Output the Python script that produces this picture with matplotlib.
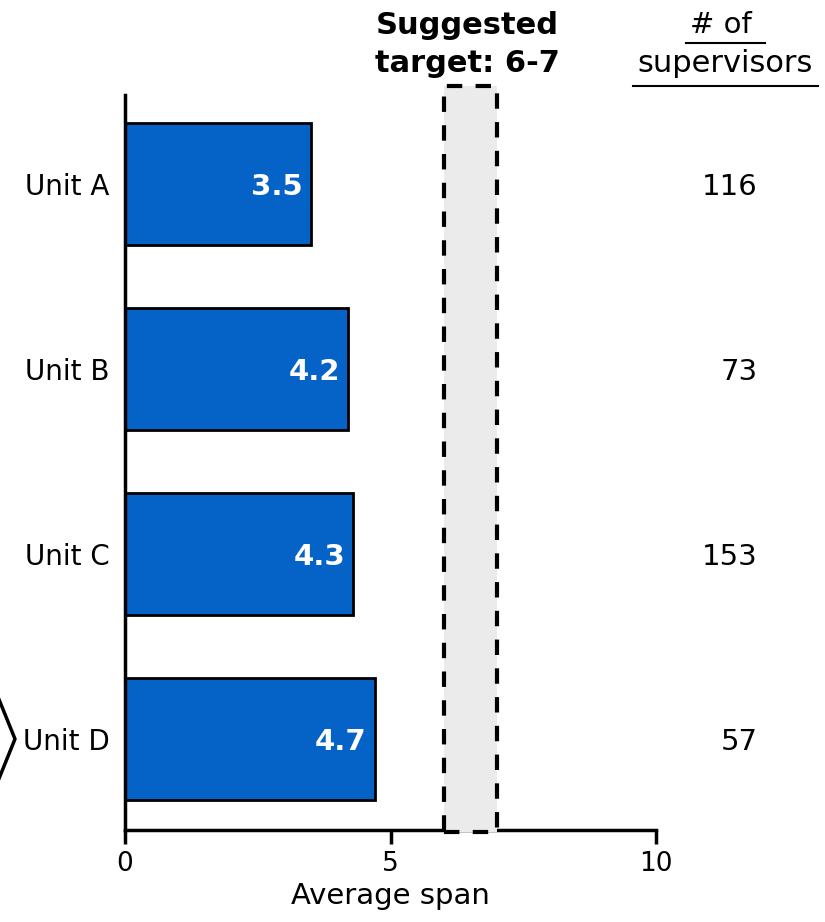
import matplotlib
matplotlib.use("Agg")
import matplotlib.pyplot as plt
from matplotlib.patches import Rectangle
from matplotlib.lines import Line2D

units = ["Unit A", "Unit B", "Unit C", "Unit D"]
avg_span = [3.5, 4.2, 4.3, 4.7]
supervisors = [116, 73, 153, 57]
target_low, target_high = 6, 7
x_ticks = [0, 5, 10]

plt.rcParams["font.family"] = ["DejaVu Sans"]

W, H = 825, 922
fig = plt.figure(figsize=(W / 100, H / 100), dpi=100)
ax = fig.add_axes([125 / W, 92 / H, (656 - 125) / W, (830 - 95) / H])

ypos = list(range(len(units)))
bar_color = "#0563C8"
ax.barh(ypos, avg_span, height=0.66, color=bar_color, edgecolor="black",
        linewidth=2, zorder=2)

for y, v in zip(ypos, avg_span):
    ax.text(v - 0.15, y + 0.015, f"{v}", ha="right", va="center", color="white",
            fontsize=21, fontweight="bold", zorder=4)

ax.set_xlim(0, 10)
ax.set_ylim(3.49, -0.48)
ax.set_yticks(ypos)
ax.set_yticklabels(units, fontsize=20)
ax.set_xticks(x_ticks)
ax.set_xticklabels([str(t) for t in x_ticks], fontsize=19)
ax.tick_params(axis="y", length=0, pad=11)
ax.tick_params(axis="x", length=10, width=2.5, direction="out", pad=5)
ax.set_xlabel("Average span", fontsize=21, labelpad=4)

for side in ["top", "right"]:
    ax.spines[side].set_visible(False)
for side in ["left", "bottom"]:
    ax.spines[side].set_linewidth(2.5)
    ax.spines[side].set_color("black")

# suggested target band
rect = Rectangle((target_low, 3.50), target_high - target_low, -4.03,
                 facecolor="#EBEBEB", edgecolor="black", linewidth=3,
                 linestyle=(0, (3.7, 3.2)), clip_on=False, zorder=3)
ax.add_patch(rect)

fig.text(467 / W, 1 - 25 / H, "Suggested", ha="center", va="center",
         fontsize=22, fontweight="bold")
fig.text(467 / W, 1 - 63 / H, f"target: {target_low}-{target_high}",
         ha="center", va="center", fontsize=22, fontweight="bold")

# supervisor counts column
for y, n in zip(ypos, supervisors):
    fy = fig.transFigure.inverted().transform(ax.transData.transform((0, y + 0.015)))[1]
    fig.text(758 / W, fy, str(n), ha="right", va="center", fontsize=21)

fig.text(725 / W, 1 - 25 / H, "# of ", ha="center", va="center", fontsize=21)
fig.text(725 / W, 1 - 64 / H, "supervisors", ha="center", va="center", fontsize=22)
fig.add_artist(Line2D([686 / W, 765 / W], [1 - 43 / H, 1 - 43 / H],
                      color="black", linewidth=1.5))
fig.add_artist(Line2D([633 / W, 818 / W], [1 - 86 / H, 1 - 86 / H],
                      color="black", linewidth=1.5))

# chevron marker beside Unit D
fig.add_artist(Line2D([-2 / W, 15 / W, -2 / W],
                      [1 - 697 / H, 1 - 739 / H, 1 - 781 / H],
                      color="black", linewidth=2.5))

fig.savefig("out.png", dpi=100)
